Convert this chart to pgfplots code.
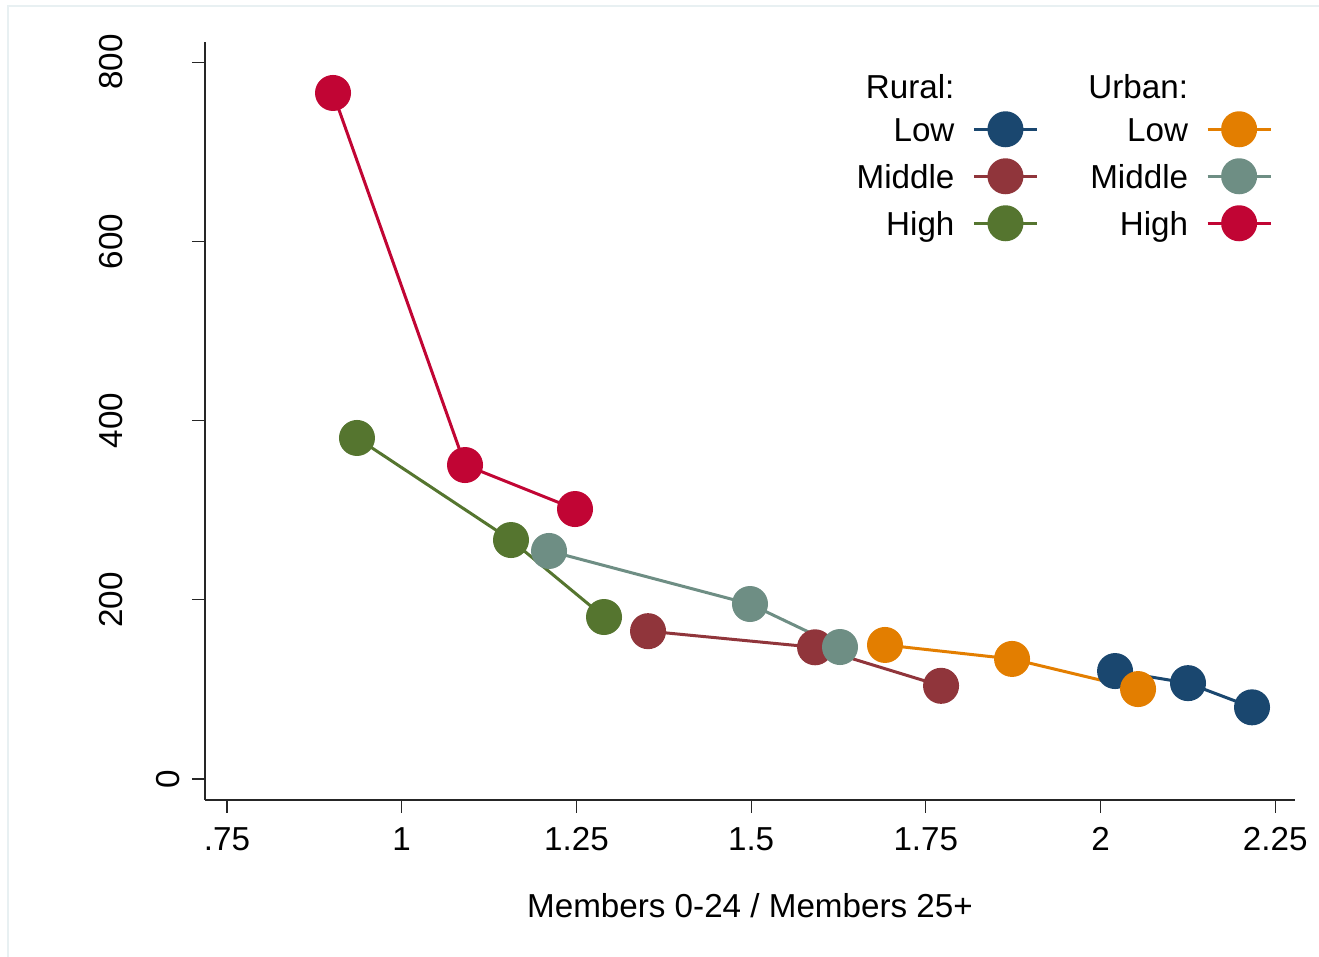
\documentclass[border=0pt]{standalone}
\usepackage{pgfplots}
\pgfplotsset{compat=1.18}
\usepackage{fontspec}
\setmainfont{Liberation Sans}

\definecolor{cnavy}{RGB}{26,71,111}
\definecolor{cmaroon}{RGB}{144,53,59}
\definecolor{cforest}{RGB}{85,117,47}
\definecolor{cdkorange}{RGB}{227,126,0}
\definecolor{cteal}{RGB}{110,142,132}
\definecolor{ccranberry}{RGB}{193,5,52}
\definecolor{framecol}{RGB}{232,240,242}

\newcommand{\chartfont}{\fontsize{16.6pt}{19pt}\selectfont}

\pgfplotsset{
  series/.style={
    color=#1, line width=1.5pt, mark=*, mark size=8.25pt,
    mark options={solid, fill=#1, draw=none},
  },
}

\begin{document}
\begin{tikzpicture}
\path[use as bounding box] (-102.5pt,-78.5pt) rectangle (557pt,400pt);
\draw[framecol, line width=0.6pt] (-98.5pt,-78.5pt) -- (-98.5pt,397pt) -- (557pt,397pt);
\begin{axis}[
  at={(0,0)}, anchor=south west,
  scale only axis, width=545pt, height=379pt,
  xmin=0.7185, xmax=2.2783, ymin=-23.4, ymax=822.5,
  axis x line*=bottom, axis y line*=left,
  axis line style={-, line width=0.8pt, black!85},
  tick align=outside, major tick length=6.5pt,
  tick style={line width=0.6pt, black!85},
  xtick={0.75,1,1.25,1.5,1.75,2,2.25},
  xticklabels={.75,1,1.25,1.5,1.75,2,2.25},
  ytick={0,200,400,600,800},
  yticklabels={0,\raisebox{28.5pt}{200},\raisebox{28.5pt}{400},\raisebox{28.5pt}{600},\raisebox{28.5pt}{800}},
  every tick label/.append style={font=\chartfont},
  xticklabel style={anchor=north, inner sep=0pt},
  yticklabel style={rotate=90, anchor=south, inner sep=0pt},
  xticklabel shift=7pt,
  yticklabel shift=6pt,
  xlabel={Members 0-24 / Members 25+},
  xlabel style={font=\chartfont, at={(axis description cs:0.5,0)}, anchor=base, yshift=-59pt},
  legend plot pos=right,
  legend cell align=right,
  legend columns=4,
  transpose legend,
  legend image code/.code={%
    \draw[mark repeat=2, mark phase=2] plot coordinates {(0pt,0pt) (15.75pt,0pt) (31.5pt,0pt)};
  },
  legend style={
    draw=none, fill=none, inner sep=0pt, outer sep=0pt,
    at={(rel axis cs:0.979,0.9565)}, anchor=north east,
    font=\chartfont, row sep=7pt,
    nodes={inner sep=0pt, text height=11.9pt, text depth=0pt},
    /tikz/every odd column/.append style={column sep=9pt},
    /tikz/every even column/.append style={column sep=25pt},
  },
]
% Rural households by income group
\addlegendimage{empty legend}
\addlegendentry{Rural:}
\addplot[series=cnavy] coordinates {(2.0208,120.5) (2.1252,107) (2.2168,80)};
\addlegendentry{Low}
\addplot[series=cmaroon] coordinates {(1.3525,165) (1.5915,147) (1.7718,104)};
\addlegendentry{Middle}
\addplot[series=cforest] coordinates {(0.936,380.6) (1.1564,266.7) (1.2895,180.8)};
\addlegendentry{High}
% Urban households by income group
\addlegendimage{empty legend}
\addlegendentry{Urban:}
\addplot[series=cdkorange] coordinates {(1.6916,149.6) (1.8734,134) (2.0537,100.4)};
\addlegendentry{Low}
\addplot[series=cteal] coordinates {(1.2108,254.5) (1.4984,195.3) (1.6272,147.3)};
\addlegendentry{Middle}
\addplot[series=ccranberry] coordinates {(0.9017,765.6) (1.0906,350.4) (1.248,301.3)};
\addlegendentry{High}
\end{axis}
\end{tikzpicture}
\end{document}
